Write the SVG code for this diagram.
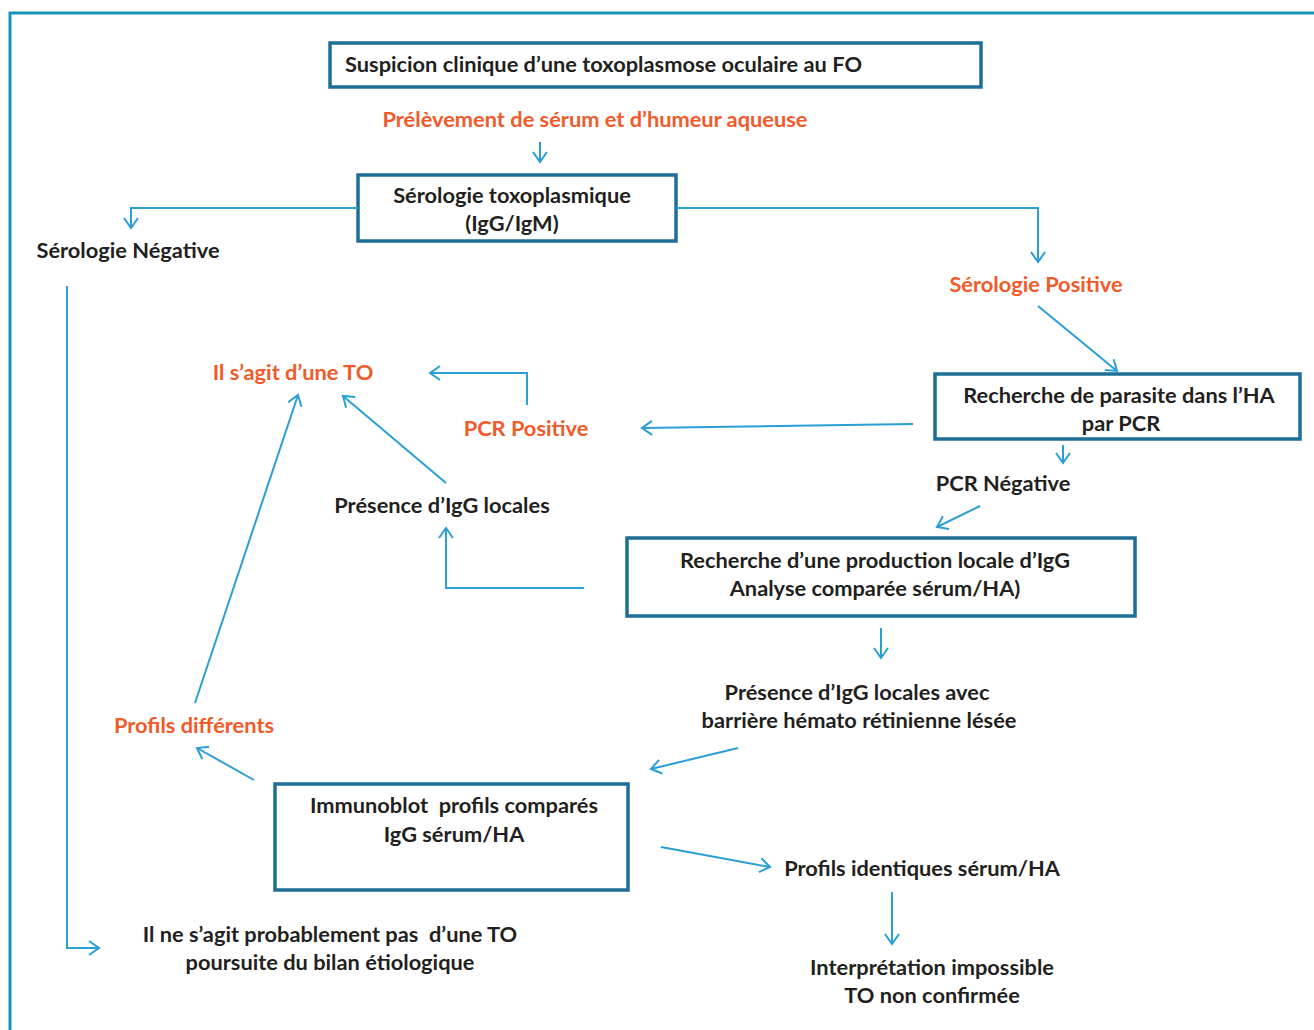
<svg xmlns="http://www.w3.org/2000/svg" width="1314" height="1030" viewBox="0 0 1314 1030">
<defs>
<marker id="ah" markerUnits="userSpaceOnUse" markerWidth="20" markerHeight="20" viewBox="0 0 20 20" refX="17" refY="10" orient="auto">
<path d="M7,3 L17,10 L7,17" fill="none" stroke="#2a9fd6" stroke-width="2"/>
</marker>
</defs>
<style>
text{font-family:Lato,"Liberation Sans",sans-serif;font-weight:700;font-size:21.8px;fill:#231f20;text-anchor:middle}
.o{fill:#f15a29}
.l{text-anchor:start}
.box{fill:#fff;stroke:#1d6f97;stroke-width:3.5}
.c path{fill:none;stroke:#2a9fd6;stroke-width:2;marker-end:url(#ah)}
</style>
<rect width="1314" height="1030" fill="#fff"/>
<path d="M10,1030 V13 H1314" fill="none" stroke="#1495b8" stroke-width="3"/>

<g id="n1"><rect class="box" x="330" y="43" width="651" height="44"/><text class="l" x="345" y="72">Suspicion clinique d’une toxoplasmose oculaire au FO</text></g>
<g id="n2"><text class="o" x="595" y="127">Prélèvement de sérum et d’humeur aqueuse</text></g>
<g id="n3"><rect class="box" x="358" y="175" width="318" height="66"/><text x="512" y="203">Sérologie toxoplasmique</text><text x="512" y="231">(IgG/IgM)</text></g>
<g id="n4"><text x="128" y="258">Sérologie Négative</text></g>
<g id="n5"><text class="o" x="1036" y="292">Sérologie Positive</text></g>
<g id="n6"><rect class="box" x="935" y="374" width="365" height="65"/><text x="1119" y="403">Recherche de parasite dans l’HA</text><text x="1121" y="431">par PCR</text></g>
<g id="n7"><text class="o" x="526" y="436">PCR Positive</text></g>
<g id="n8"><text class="o" x="293" y="380">Il s’agit d’une TO</text></g>
<g id="n9"><text x="1003" y="491">PCR Négative</text></g>
<g id="n10"><rect class="box" x="627" y="538" width="508" height="78"/><text x="875" y="568">Recherche d’une production locale d’IgG</text><text x="875" y="596">Analyse comparée sérum/HA)</text></g>
<g id="n11"><text x="442" y="513">Présence d’IgG locales</text></g>
<g id="n12"><text x="857" y="700">Présence d’IgG locales avec</text><text x="859" y="728">barrière hémato rétinienne lésée</text></g>
<g id="n13"><rect class="box" x="275" y="784" width="353" height="106"/><text x="454" y="813" xml:space="preserve">Immunoblot  profils comparés</text><text x="454" y="842">IgG sérum/HA</text></g>
<g id="n14"><text class="o" x="194" y="733">Profils différents</text></g>
<g id="n15"><text x="922" y="876">Profils identiques sérum/HA</text></g>
<g id="n16"><text x="932" y="975">Interprétation impossible</text><text x="932" y="1003">TO non confirmée</text></g>
<g id="n17"><text x="330" y="942" xml:space="preserve">Il ne s’agit probablement pas  d’une TO</text><text x="330" y="970">poursuite du bilan étiologique</text></g>

<g id="connectors" class="c">
<path d="M540,142 V162"/>
<path d="M358,208 H131 V228"/>
<path d="M676,208 H1038 V262"/>
<path d="M1038,306 L1117,371"/>
<path d="M913,424 L642,428"/>
<path d="M527,405 V373 H430"/>
<path d="M1063,445 V463"/>
<path d="M980,506 L937,527"/>
<path d="M584,588 H446 V528"/>
<path d="M446,483 L343,396"/>
<path d="M881,628 V658"/>
<path d="M738,748 L651,769"/>
<path d="M254,780 L197,748"/>
<path d="M195,703 L298,395"/>
<path d="M661,847 L770,867"/>
<path d="M892,892 V944"/>
<path d="M67,286 V948 H99"/>
</g>
</svg>
